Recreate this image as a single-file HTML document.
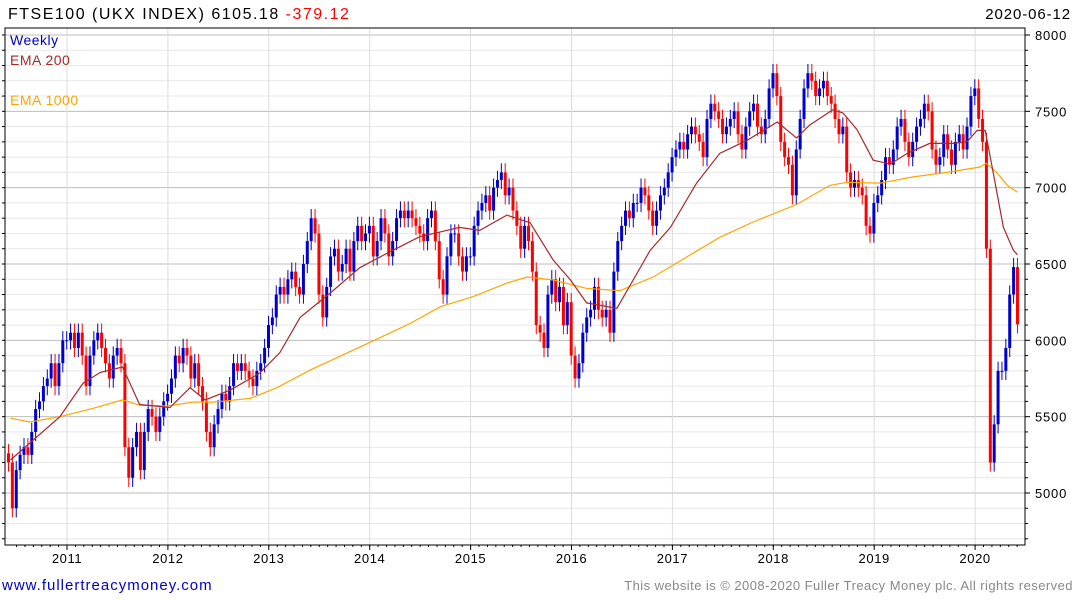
<!DOCTYPE html>
<html><head><meta charset="utf-8"><style>
body{margin:0;background:#fff;width:1075px;height:600px;overflow:hidden;font-family:"Liberation Sans",sans-serif}
svg{display:block}
</style></head><body>
<svg id="c" width="1075" height="600"></svg>
<script>
const closes2010=[5200,4900,5150,5250,5300,5250,5400,5550,5600,5700,5750,5850,5700,5850,6000];
const closes2011=[6000,6050,5950,6050,5900,5700,5900,6000,6050,5950,5850,5750,5900,5950,5850,5300,5100,5300,5400,5150,5400,5550,5500,5400,5500,5600];
const closes2012=[5650,5750,5900,5850,5950,5900,5750,5850,5700,5600,5400,5300,5450,5550,5650,5600,5700,5850,5800,5850,5800,5750,5700,5800,5850,5950];
const closes2013=[6100,6150,6300,6350,6300,6400,6450,6350,6300,6500,6650,6800,6700,6300,6150,6350,6550,6600,6450,6500,6600,6450,6650,6750,6650,6700];
const closes2014=[6750,6550,6650,6800,6700,6550,6650,6800,6850,6800,6850,6800,6750,6700,6650,6800,6850,6650,6400,6300,6550,6700,6700,6550,6450,6550];
const closes2015=[6550,6750,6850,6900,6950,6850,7000,7050,7100,6950,7000,6850,6750,6600,6750,6650,6450,6100,6050,5950,6300,6400,6250,6350,6100,6250];
const closes2016=[5900,5750,5850,6050,6150,6200,6350,6200,6150,6200,6050,6450,6650,6750,6850,6800,6900,6900,7000,6950,6850,6750,6850,6950,7000,7100];
const closes2017=[7200,7250,7300,7250,7350,7400,7350,7300,7200,7450,7550,7500,7450,7350,7400,7450,7500,7350,7250,7400,7500,7550,7400,7350,7450,7650];
const closes2018=[7750,7600,7300,7200,7150,6950,7250,7450,7650,7750,7700,7600,7650,7700,7600,7550,7450,7350,7400,7100,7000,7050,7000,6950,6750,6700];
const closes2019=[6900,6950,7050,7200,7150,7250,7400,7450,7300,7200,7300,7400,7450,7550,7500,7250,7150,7200,7350,7250,7150,7300,7350,7250,7400,7600];
const closes2020=[7650,7450,7300,6600,5200,5450,5800,5800,5950,6300,6480,6105];
const ema200Dates=[2010.44,2010.93,2011.16,2011.33,2011.55,2011.72,2012.02,2012.22,2012.37,2012.62,2012.91,2013.11,2013.31,2013.61,2013.90,2014.20,2014.50,2014.70,2014.89,2015.09,2015.36,2015.59,2015.82,2015.99,2016.15,2016.45,2016.78,2016.98,2017.24,2017.47,2017.74,2018.04,2018.23,2018.36,2018.59,2018.69,2018.83,2018.99,2019.16,2019.33,2019.55,2019.78,2019.92,2020.02,2020.10,2020.18,2020.28,2020.38,2020.42];
const ema200Values=[5216,5500,5720,5790,5825,5580,5560,5690,5610,5675,5785,5920,6150,6310,6475,6580,6680,6710,6740,6720,6820,6770,6525,6395,6245,6210,6590,6740,7030,7225,7310,7430,7325,7410,7510,7490,7380,7180,7155,7225,7290,7290,7300,7375,7375,7095,6740,6590,6560];
const ema1000Dates=[2010.44,2010.63,2010.93,2011.26,2011.55,2011.72,2011.99,2012.25,2012.45,2012.82,2013.08,2013.41,2013.90,2014.40,2014.70,2015.02,2015.36,2015.56,2015.82,2016.15,2016.48,2016.81,2017.14,2017.47,2017.80,2018.23,2018.56,2018.73,2019.06,2019.38,2019.72,2020.05,2020.11,2020.22,2020.32,2020.42];
const ema1000Values=[5490,5465,5500,5555,5610,5575,5570,5595,5595,5620,5690,5805,5955,6110,6220,6285,6375,6415,6395,6340,6325,6415,6545,6675,6775,6890,7015,7035,7030,7070,7100,7135,7160,7095,7015,6970];
const yTicks=[5000,5500,6000,6500,7000,7500,8000];
const xTickYears=[2011,2012,2013,2014,2015,2016,2017,2018,2019,2020];

const NS='http://www.w3.org/2000/svg';
const svg=document.getElementById('c');
function el(tag,attrs,parent){const e=document.createElementNS(NS,tag);for(const k in attrs)e.setAttribute(k,attrs[k]);(parent||svg).appendChild(e);return e;}
const L=5,R=1025,T=28,B=545;
const yS=v=>493-(v-5000)*0.15267;
const xS=t=>67+(t-2011)*100.9;
const startT=2010.42,stepT=1/26;

const grid=el('g',{});


for(let v=4700;v<=8000;v+=100){
  const y=yS(v);if(y<T||y>B)continue;
  const major=v%500===0;
  el('line',{x1:L,x2:R,y1:y,y2:y,stroke:major?'#bdbdbd':'#e8e8e8','stroke-width':1},grid);
}
xTickYears.forEach(yr=>{const x=xS(yr);el('line',{x1:x,x2:x,y1:T,y2:B,stroke:'#dcdcdc','stroke-width':1},grid);});

const frame=el('rect',{x:L,y:T,width:R-L,height:B-T,fill:'none',stroke:'#000','stroke-width':1});



const yax=el('g',{});


for(let v=4700;v<=8000;v+=100){const y=yS(v);if(y<T||y>B)continue;el('line',{x1:R,x2:R+(v%500===0?5:3),y1:y,y2:y,stroke:'#000'},yax);el('line',{x1:L,x2:L-3,y1:y,y2:y,stroke:'#000'},yax);}
yTicks.forEach(v=>{const t=el('text',{x:1035,y:yS(v)+5,'font-size':13,fill:'#000','letter-spacing':'0.8'},yax);t.textContent=v;

});

const xax=el('g',{});


for(let m=2010.5;m<=2020.5;m+=1/12){const x=xS(m);if(x<L||x>R)continue;el('line',{x1:x,x2:x,y1:B,y2:B+2,stroke:'#000'},xax);}
xTickYears.forEach(yr=>{const x=xS(yr);el('line',{x1:x,x2:x,y1:B,y2:B+5,stroke:'#000'},xax);
const t=el('text',{x:x,y:563,'font-size':13,'text-anchor':'middle',fill:'#000','letter-spacing':'0.6'},xax);t.textContent=yr;

});

const closes=[].concat(closes2010,closes2011,closes2012,closes2013,closes2014,closes2015,closes2016,closes2017,closes2018,closes2019,closes2020);
const bars=el('g',{});


closes.forEach((c,i)=>{
  const o=i===0?c+60:closes[i-1];
  const x=xS(startT+i*stepT);
  const col=c>=o?'#0000cc':'#ff0000';
  const hi=Math.max(o,c)+60,lo=Math.min(o,c)-60;
  const w=el('line',{x1:x,x2:x,y1:yS(hi),y2:yS(lo),stroke:col,'stroke-width':1},bars);
  
  
  const b=el('rect',{x:x-1.5,y:yS(Math.max(o,c)),width:3,height:Math.max(1,yS(Math.min(o,c))-yS(Math.max(o,c))),fill:col},bars);
  
  
});

function line(dates,vals,color,name){
  const d=dates.map((t,i)=>(i?'L':'M')+xS(t).toFixed(1)+','+yS(vals[i]).toFixed(1)).join(' ');
  const p=el('path',{d:d,fill:'none',stroke:color,'stroke-width':1.2});
  
  
}
line(ema1000Dates,ema1000Values,'#ffa500','ema-1000-line');
line(ema200Dates,ema200Values,'#a52a2a','ema-200-line');

function txt(x,y,s,size,fill,name,anchor,ls){const t=el('text',{x:x,y:y,'font-size':size,fill:fill,'text-anchor':anchor||'start','letter-spacing':ls||0});t.textContent=s;

return t;}
const title=txt(8,19,'',16,'#000','chart-title','start',1.5);
const s1=el('tspan',{},title);s1.textContent='FTSE100  (UKX INDEX) 6105.18 ';
const s2=el('tspan',{fill:'#ff0000'},title);s2.textContent='-379.12';
txt(1071,19,'2020-06-12',15,'#000','chart-date','end',0.9);
txt(10,45,'Weekly',14,'#0000cc','legend-weekly','start',0.5);
txt(10,65,'EMA 200',14,'#a52a2a','legend-ema-200','start',0.5);
txt(10,105,'EMA 1000',14,'#ffa500','legend-ema-1000','start',0.5);
const link=txt(2,590,'www.fullertreacymoney.com',15,'#0000cc','site-link','start',1);

txt(1073,590,'This website is © 2008-2020 Fuller Treacy Money plc. All rights reserved',13,'#888','copyright-notice','end',0.45);
</script>
</body></html>
